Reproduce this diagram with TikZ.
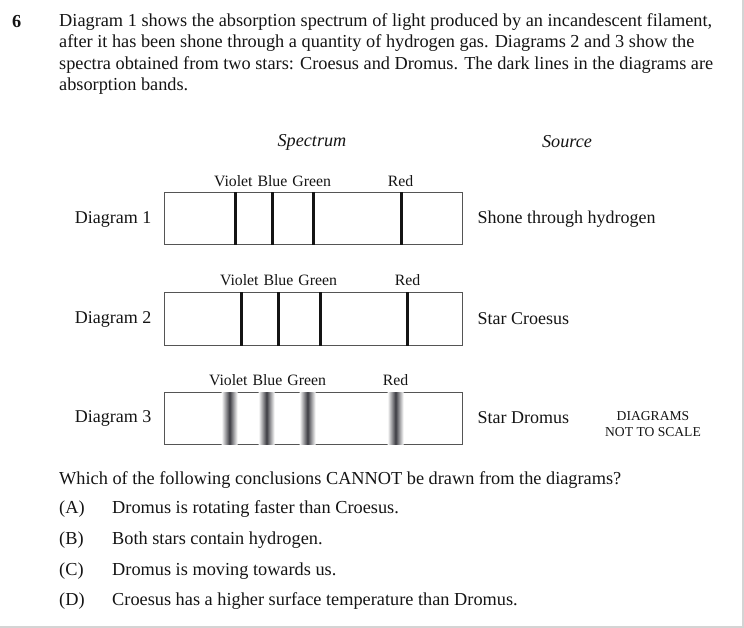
\documentclass[tikz,border=0pt]{standalone}
\usepackage{fontspec}
\setmainfont{Liberation Serif}
\usetikzlibrary{positioning,calc}
\definecolor{inkclr}{RGB}{20,20,20}
\definecolor{boxbdr}{RGB}{85,85,85}
\definecolor{bandclr}{RGB}{60,60,66}
\definecolor{frameclr}{RGB}{212,212,212}
\tikzset{
  %% question text
  qtxt/.style={font=\fontsize{18.3}{21.3}\selectfont,text=inkclr,inner sep=0pt,
    anchor=west,align=left},
  %% row label / source text
  rowlbl/.style={font=\fontsize{18}{20}\selectfont,text=inkclr,inner sep=0pt},
  %% column heading
  colhd/.style={font=\fontsize{18.2}{20}\selectfont\itshape,text=inkclr,inner sep=0pt},
  %% colour names above a strip
  clbl/.style={font=\fontsize{15.8}{17}\selectfont,text=inkclr,inner sep=0pt},
  %% spectrum strip
  spec/.style={rectangle,draw=boxbdr,line width=1pt,fill=white,
    minimum width=298pt,minimum height=52pt,inner sep=0pt},
  %% sharp absorption line
  absln/.style={line width=3pt,color=inkclr},
  %% broadened absorption band
  band/.style={left color=white,right color=white,middle color=bandclr},
  %% side note
  note/.style={font=\fontsize{13.6}{16.5}\selectfont,align=center,text=inkclr,inner sep=0pt},
}
\begin{document}
\begin{tikzpicture}[x=1pt,y=-1pt]
  \useasboundingbox (0,0) rectangle (744,628);
  \draw[frameclr,line width=2pt] (743,0) -- (743,627) -- (0,627);

  %% stem
  \node[qtxt,font=\fontsize{18.3}{21.3}\selectfont\bfseries] (qnum) at (12,21.5) {6};
  \node[qtxt,anchor=north west] (stem) at (59,13.5)
    {Diagram 1 shows the absorption spectrum of light produced by an incandescent filament,\\
     after it has been shone through a quantity of hydrogen gas. Diagrams 2 and 3 show the\\
     spectra obtained from two stars: Croesus and Dromus. The dark lines in the diagrams are\\
     absorption bands.};

  %% headings
  \node[colhd] (spechd) at (312,142) {Spectrum};
  \node[colhd] (srchd) at (567,142) {Source};

  %% diagram 1
  \node[spec] (d1) at (313,219) {};
  \node[rowlbl,left=12pt of d1] (d1lbl) {Diagram 1};
  \node[rowlbl,anchor=west,right=15pt of d1] (d1src) {Shone through hydrogen};
  \node[clbl] (d1vbg) at ([xshift=109pt,yshift=11pt]d1.north west) {Violet\kern1pt{} Blue\kern1pt{} Green};
  \node[clbl] (d1red) at ([xshift=237pt,yshift=11pt]d1.north west) {Red};
  \foreach \dx in {72,109,150,238}
    \draw[absln] ([xshift=\dx pt]d1.north west) -- ([xshift=\dx pt]d1.south west);

  %% diagram 2
  \node[spec] (d2) at (313,319) {};
  \node[rowlbl,left=12pt of d2] (d2lbl) {Diagram 2};
  \node[rowlbl,anchor=west,right=15pt of d2] (d2src) {Star Croesus};
  \node[clbl] (d2vbg) at ([xshift=115pt,yshift=12pt]d2.north west) {Violet\kern1pt{} Blue\kern1pt{} Green};
  \node[clbl] (d2red) at ([xshift=244pt,yshift=12pt]d2.north west) {Red};
  \foreach \dx in {78,115,157,244}
    \draw[absln] ([xshift=\dx pt]d2.north west) -- ([xshift=\dx pt]d2.south west);

  %% diagram 3
  \node[spec] (d3) at (313,418) {};
  \node[rowlbl,left=12pt of d3] (d3lbl) {Diagram 3};
  \node[rowlbl,anchor=west,right=15pt of d3] (d3src) {Star Dromus};
  \node[clbl] (d3vbg) at ([xshift=104pt,yshift=11pt]d3.north west) {Violet\kern1pt{} Blue\kern1pt{} Green};
  \node[clbl] (d3red) at ([xshift=232pt,yshift=11pt]d3.north west) {Red};
  \foreach \dx in {66,103,144,232}
    \shade[band] ([xshift=\dx pt-8pt,yshift=-0.5pt]d3.north west)
      rectangle ([xshift=\dx pt+8pt,yshift=0.5pt]d3.south west);
  \node[note] (scale) at (653,424) {DIAGRAMS\\NOT TO SCALE};

  %% question and options
  \node[qtxt] (ask) at (59,480) {Which of the following conclusions CANNOT be drawn from the diagrams?};
  \foreach \lt/\tx/\yy in {A/Dromus is rotating faster than Croesus./509,
      B/Both stars contain hydrogen./540,
      C/Dromus is moving towards us./571,
      D/Croesus has a higher surface temperature than Dromus./601}{
    \node[qtxt] (opt\lt) at (59,\yy) {(\lt)};
    \node[qtxt] (optx\lt) at (112,\yy) {\tx};
  }
\end{tikzpicture}
\end{document}
